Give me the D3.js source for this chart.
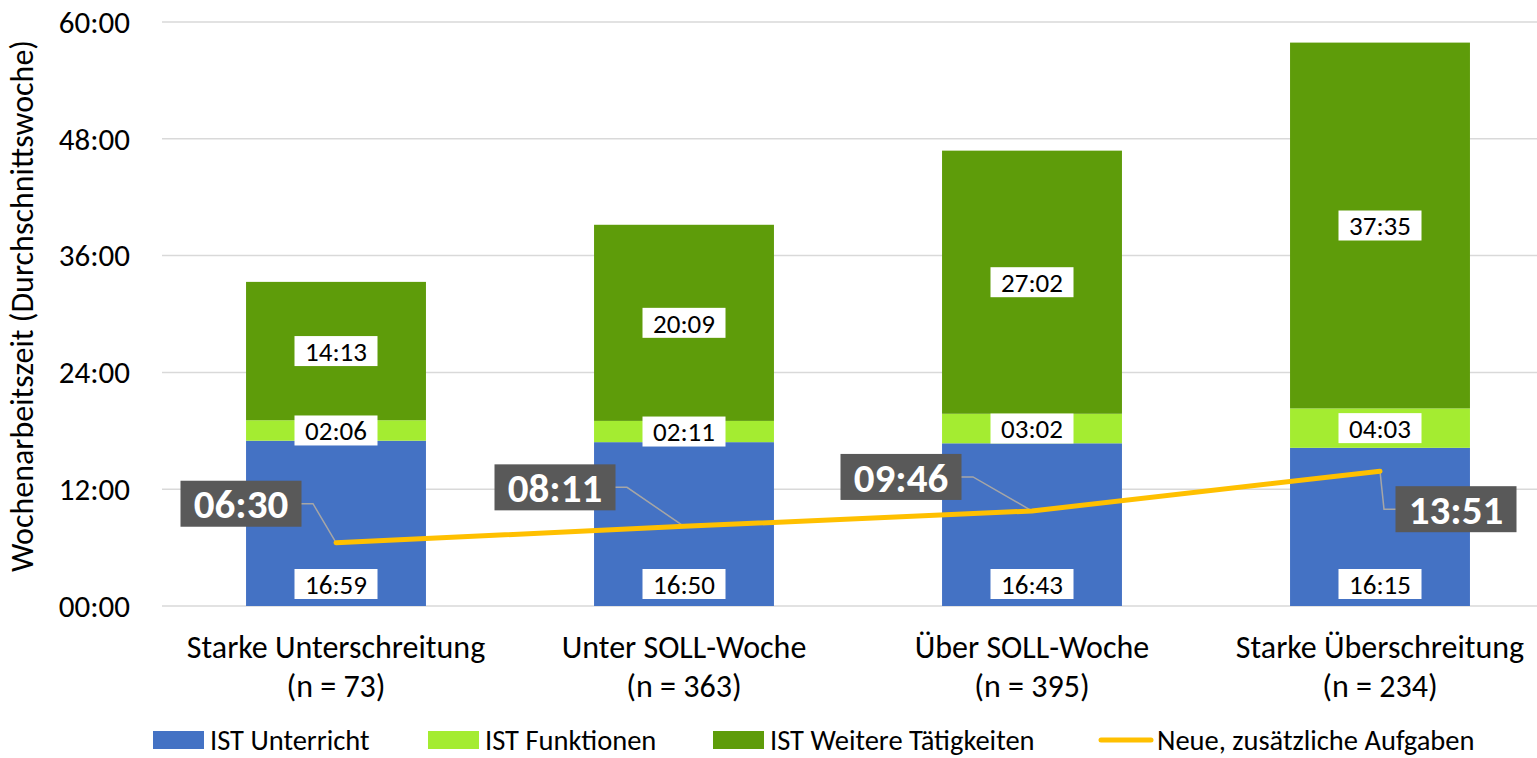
<!DOCTYPE html>
<html>
<head>
<meta charset="utf-8">
<script src="https://cdn.jsdelivr.net/npm/d3@7"></script>
<style>
  body { margin: 0; background: #fff; }
  svg text { font-family: Carlito, Calibri, Lato, "Open Sans", sans-serif; fill: #000; }
</style>
</head>
<body>
<svg id="chart" width="1537" height="758"></svg>
<script>
// categories and values (hh:mm)
var categories = ["Starke Unterschreitung", "Unter SOLL-Woche", "Über SOLL-Woche", "Starke Überschreitung"];
var sampleSizes = ["(n = 73)", "(n = 363)", "(n = 395)", "(n = 234)"];
var unterricht = ["16:59", "16:50", "16:43", "16:15"];
var funktionen = ["02:06", "02:11", "03:02", "04:03"];
var weitere = ["14:13", "20:09", "27:02", "37:35"];
var neueAufgaben = ["06:30", "08:11", "09:46", "13:51"];
var yTicks = [0, 12, 24, 36, 48, 60];
var seriesNames = ["IST Unterricht", "IST Funktionen", "IST Weitere Tätigkeiten", "Neue, zusätzliche Aufgaben"];

(function () {
    var colors = ["#4472C4", "#A4EC31", "#5E9C0A"];
    var lineColor = "#FFC000";

    function toHours(s) {
        var p = s.split(":");
        return +p[0] + (+p[1]) / 60;
    }
    function fmt(h) {
        var m = Math.round(h * 60);
        return d3.format("02")(Math.floor(m / 60)) + ":" + d3.format("02")(m % 60);
    }

    var svg = d3.select("#chart");

    var x = d3.scaleBand()
        .domain(categories)
        .range([162, 1554])
        .paddingInner(0.483)
        .paddingOuter(0.2415);

    var y = d3.scaleLinear()
        .domain([0, 60])
        .range([606, 22]);

    // gridlines + y labels
    svg.append("g")
        .selectAll("line")
        .data(yTicks)
        .enter().append("line")
        .attr("x1", 162).attr("x2", 1537)
        .attr("y1", function (d) { return y(d); })
        .attr("y2", function (d) { return y(d); })
        .attr("stroke", "#D9D9D9")
        .attr("stroke-width", 1.5);

    svg.append("g")
        .selectAll("text")
        .data(yTicks)
        .enter().append("text")
        .attr("x", 130)
        .attr("y", function (d) { return y(d); })
        .attr("dy", "0.35em")
        .style("text-anchor", "end")
        .style("font-size", "31px")
        .text(function (d) { return fmt(d); });

    svg.append("text")
        .attr("transform", "translate(33,306) rotate(-90)")
        .style("text-anchor", "middle")
        .style("font-size", "32px")
        .text("Wochenarbeitszeit (Durchschnittswoche)");

    // stacked bars
    var rows = categories.map(function (c, i) {
        return { cat: c, u: toHours(unterricht[i]), f: toHours(funktionen[i]), w: toHours(weitere[i]) };
    });
    var stack = d3.stack().keys(["u", "f", "w"]);
    var layers = stack(rows);

    var g = svg.append("g");
    layers.forEach(function (layer, li) {
        g.selectAll(".bar" + li)
            .data(layer)
            .enter().append("rect")
            .attr("x", function (d) { return x(d.data.cat); })
            .attr("width", x.bandwidth())
            .attr("y", function (d) { return y(d[1]); })
            .attr("height", function (d) { return y(d[0]) - y(d[1]); })
            .attr("fill", colors[li]);
    });

    // data labels in white boxes
    layers.forEach(function (layer, li) {
        layer.forEach(function (d) {
            var cx = x(d.data.cat) + x.bandwidth() / 2;
            var cy = li === 0 ? y(0) - 22 : (y(d[0]) + y(d[1])) / 2;
            var lbl = g.append("g").attr("transform", "translate(" + cx + "," + cy + ")");
            lbl.append("rect")
                .attr("x", -41.5).attr("y", -15)
                .attr("width", 83).attr("height", 30)
                .attr("fill", "#fff");
            lbl.append("text")
                .attr("dy", "0.36em")
                .style("text-anchor", "middle")
                .style("font-size", "27px")
                .text(fmt(d[1] - d[0]));
        });
    });

    // line series
    var pts = categories.map(function (c, i) {
        return { cat: c, v: toHours(neueAufgaben[i]) };
    });
    var line = d3.line()
        .x(function (d) { return x(d.cat) + x.bandwidth() / 2; })
        .y(function (d) { return y(d.v); });

    // label offsets relative to the point (box centre)
    var offs = [[-95, -39], [-129, -39], [-131, -34], [76, 38]];

    pts.forEach(function (d, i) {
        var px = x(d.cat) + x.bandwidth() / 2, py = y(d.v);
        var bx = px + offs[i][0], by = py + offs[i][1];
        var path;
        if (offs[i][0] < 0) {
            path = [[bx + 60, by], [bx + 72, by], [px, py]];
        } else {
            path = [[px, py], [px + 4, by], [bx - 60, by]];
        }
        svg.append("path")
            .attr("d", d3.line()(path))
            .attr("fill", "none")
            .attr("stroke", "#A6A6A6")
            .attr("stroke-width", 1.5);
    });

    svg.append("path")
        .datum(pts)
        .attr("d", line)
        .attr("fill", "none")
        .attr("stroke", lineColor)
        .attr("stroke-width", 5)
        .attr("stroke-linecap", "round");

    pts.forEach(function (d, i) {
        var px = x(d.cat) + x.bandwidth() / 2, py = y(d.v);
        var bx = px + offs[i][0], by = py + offs[i][1];
        svg.append("rect")
            .attr("x", bx - 60.5).attr("y", by - 23)
            .attr("width", 121).attr("height", 46)
            .attr("fill", "#595959");
        svg.append("text")
            .attr("x", bx).attr("y", by)
            .attr("dy", "0.36em")
            .style("text-anchor", "middle")
            .style("font-size", "41px")
            .style("font-weight", "bold")
            .style("fill", "#fff")
            .text(neueAufgaben[i]);
    });

    // x axis labels
    var xl = svg.append("g").selectAll("text")
        .data(categories)
        .enter().append("text")
        .attr("x", function (d) { return x(d) + x.bandwidth() / 2; })
        .attr("y", 658)
        .style("text-anchor", "middle")
        .style("font-size", "32px");
    xl.append("tspan").text(function (d) { return d; });
    xl.append("tspan")
        .attr("x", function (d) { return x(d) + x.bandwidth() / 2; })
        .attr("dy", 39)
        .text(function (d, i) { return sampleSizes[i]; });

    // legend
    var legendX = [153, 428, 713, 1098];
    var lg = svg.append("g");
    seriesNames.forEach(function (name, i) {
        var item = lg.append("g").attr("transform", "translate(" + legendX[i] + ",740)");
        var tx;
        if (i < 3) {
            item.append("rect")
                .attr("x", 0).attr("y", -9)
                .attr("width", 51).attr("height", 18)
                .attr("fill", colors[i]);
            tx = 57;
        } else {
            item.append("line")
                .attr("x1", 3).attr("x2", 53)
                .attr("stroke", lineColor).attr("stroke-width", 5)
                .attr("stroke-linecap", "round");
            tx = 59;
        }
        item.append("text").attr("x", tx).attr("dy", "0.35em")
            .style("font-size", "28.5px").text(name);
    });
})();
</script>
</body>
</html>
